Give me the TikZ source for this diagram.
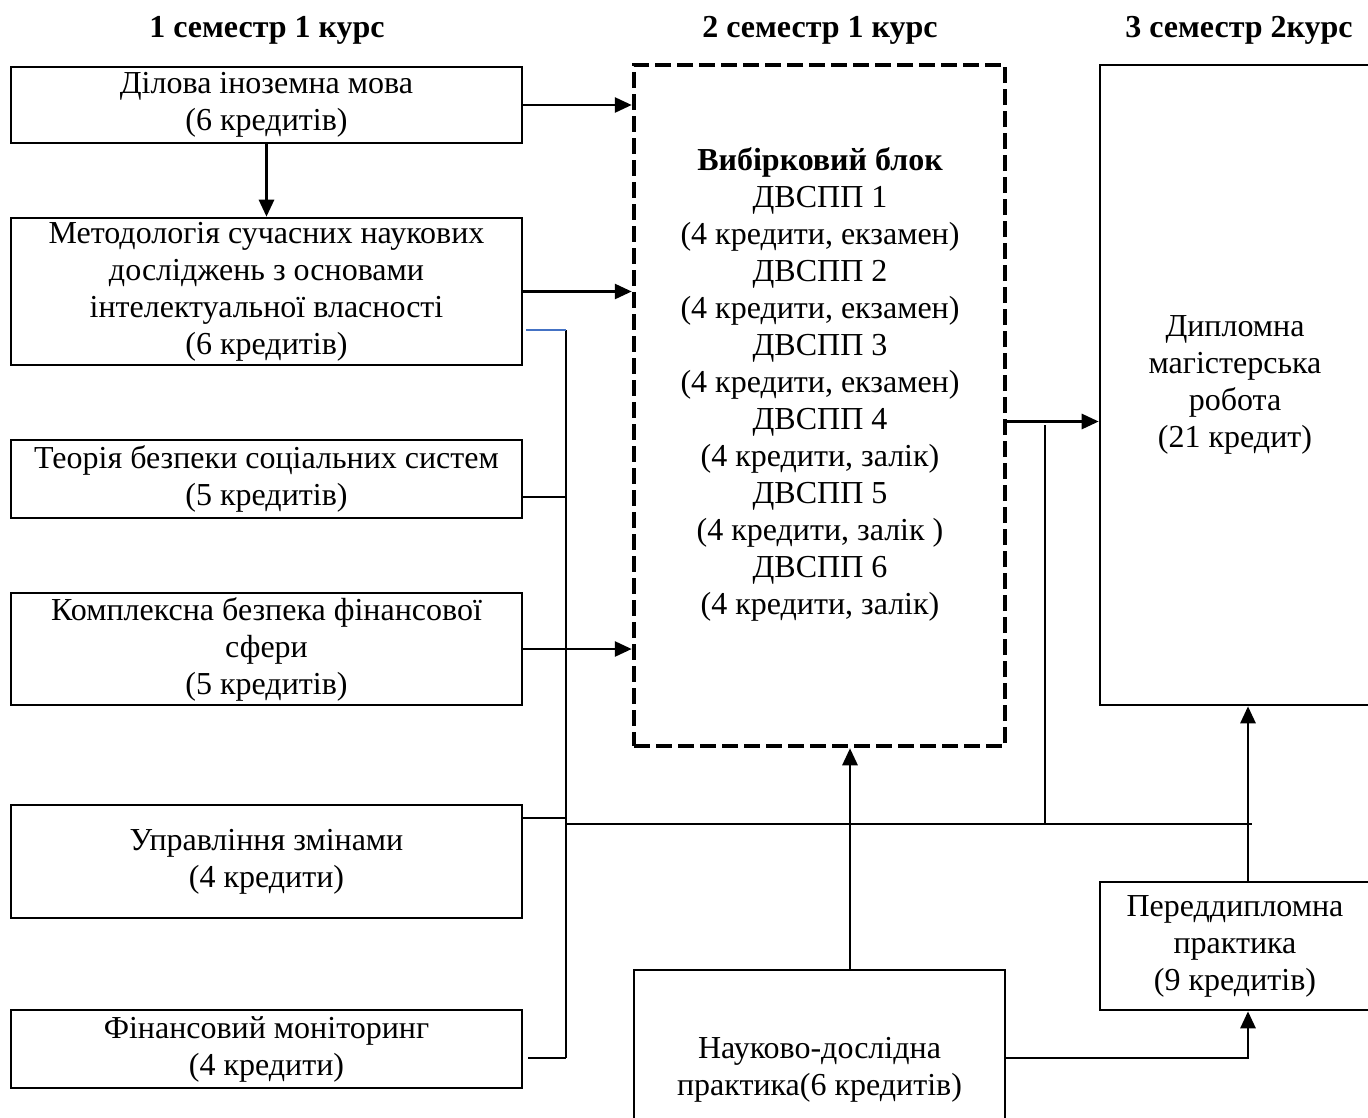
\documentclass[tikz,border=0pt]{standalone}
\usepackage{fontspec}
\setmainfont{Liberation Serif}
\usetikzlibrary{arrows.meta}
\begin{document}
\begin{tikzpicture}[x=1pt,y=-1pt,
  txt/.style={font=\fontsize{32}{37}\selectfont, align=center},
  box/.style={draw, line width=2.6pt, txt, inner sep=0pt},
  head/.style={font=\fontsize{32}{36}\selectfont\bfseries},
  arr/.style={line width=2.8pt, -{Triangle[length=17pt,width=15pt]}},
  ln/.style={line width=2.2pt},
  thinln/.style={line width=1.8pt},
  dbox/.style={draw, line width=4.5pt, dash pattern=on 16pt off 6pt, inner sep=0pt}]
\useasboundingbox (0,0) rectangle (1368,1117);
\definecolor{lineblue}{RGB}{68,114,196}
% headers
\node[head] (h1) at (267,30) {1 семестр 1 курс};
\node[head] (h2) at (820,30) {2 семестр 1 курс};
\node[head] (h3) at (1239,30) {3 семестр 2курс};
% left column
\node[box, minimum width=511pt, minimum height=76pt] (b1) at (266.5,105) {Ділова іноземна мова\\(6 кредитів)};
\node[box, minimum width=511pt, minimum height=147pt] (b2) at (266.5,291.5) {Методологія сучасних наукових\\досліджень з основами\\інтелектуальної власності\\(6 кредитів)};
\node[box, minimum width=511pt, minimum height=78pt] (b3) at (266.5,479) {Теорія безпеки соціальних систем\\(5 кредитів)};
\node[box, minimum width=511pt, minimum height=112pt] (b4) at (266.5,649) {Комплексна безпека фінансової\\сфери\\(5 кредитів)};
\node[box, minimum width=511pt, minimum height=113pt] (b5) at (266.5,861.5) {Управління змінами\\(4 кредити)};
\node[box, minimum width=511pt, minimum height=78pt] (b6) at (266.5,1049) {Фінансовий моніторинг\\(4 кредити)};
% middle
\node[dbox, minimum width=371pt, minimum height=681pt] (dash) at (819.5,405.5) {};
\node[txt] (dtxt) at (820,384) {\textbf{Вибірковий блок}\\ДВСПП 1\\(4 кредити, екзамен)\\ДВСПП 2\\(4 кредити, екзамен)\\ДВСПП 3\\(4 кредити, екзамен)\\ДВСПП 4\\(4 кредити, залік)\\ДВСПП 5\\(4 кредити, залік )\\ДВСПП 6\\(4 кредити, залік)};
\node[box, minimum width=371pt, minimum height=200pt] (nd) at (819.5,1070) {Науково-дослідна\\практика(6 кредитів)};
% right
\node[box, minimum width=270pt, minimum height=640pt] (dipl) at (1235,385) {Дипломна\\магістерська\\робота\\(21 кредит)};
\node[box, minimum width=270pt, minimum height=128pt] (pred) at (1235,946) {Переддипломна\\практика\\(9 кредитів)};
% coordinates
\coordinate (bt) at (566,330);
\coordinate (bb) at (566,1058);
\coordinate (hl) at (566,824);
\coordinate (hr) at (1252,824);
\coordinate (vt) at (1045,425);
\coordinate (pa) at (1248,0);
\coordinate (na) at (850,0);
% arrows into elective block
\draw[arr] (b1.east) -- (b1.east -| dash.west);
\draw[arr] (b1.south) -- (b2.north);
\draw[arr] (b2.east) -- (b2.east -| dash.west);
\draw[arr] (b4.east) -- (b4.east -| dash.west);
\draw[arr] ([yshift=-16pt]dash.east) -- ([yshift=-16pt]dash.east -| dipl.west);
% collecting bar
\draw[thinln] (bt) -- (bb);
\draw[thinln, lineblue] ([xshift=3pt]b2.east |- bt) -- (bt);
\draw[ln] ([yshift=-18pt]b3.east) -- ([yshift=-18pt]b3.east -| bt);
\draw[ln] ([yshift=43.5pt]b5.east) -- ([yshift=43.5pt]b5.east -| bt);
\draw[ln] ([yshift=-9pt,xshift=5pt]b6.east) -- ([yshift=-9pt]b6.east -| bt);
\draw[ln] (hl) -- (hr);
\draw[thinln] (vt) -- (vt |- hl);
% practice arrows
\draw[arr] (pred.north -| pa) -- (dipl.south -| pa);
\draw[arr] (nd.north -| na) -- (dash.south -| na);
\draw[arr] ([yshift=12pt]nd.east) -| (pred.south -| pa);
\end{tikzpicture}
\end{document}
